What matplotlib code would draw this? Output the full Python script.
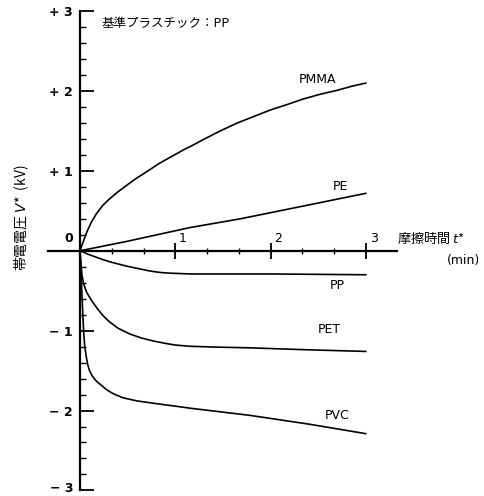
"""帯電電圧と摩擦時間のグラフ (基準プラスチック: PP)"""
import matplotlib
matplotlib.use('Agg')
from matplotlib import pyplot as plt
from matplotlib.ticker import FixedLocator

plt.rcParams['font.family'] = ['Noto Sans CJK JP', 'DejaVu Sans']

# data: time (min) -> voltage (kV)
pmma_t = [0, 0.03, 0.07, 0.12, 0.17, 0.24, 0.31, 0.4, 0.49, 0.57, 0.66, 0.75, 0.84, 0.96,
          1.08, 1.18, 1.29, 1.47, 1.65, 1.82, 1.99, 2.17, 2.34, 2.52, 2.7, 2.85, 3.0]
pmma_v = [0, 0.1, 0.23, 0.36, 0.46, 0.57, 0.65, 0.74, 0.82, 0.89, 0.96, 1.03, 1.1, 1.18,
          1.26, 1.32, 1.39, 1.5, 1.6, 1.68, 1.76, 1.83, 1.9, 1.96, 2.01, 2.06, 2.1]
pe_t = [0, 0.5, 1.15, 1.68, 2.3, 3.0]
pe_v = [0, 0.12, 0.29, 0.4, 0.55, 0.72]
pp_t = [0, 0.05, 0.1, 0.17, 0.24, 0.32, 0.4, 0.5, 0.6, 0.7, 0.77, 0.85, 0.94, 1.05, 1.15,
        2.0, 3.0]
pp_v = [0, -0.025, -0.05, -0.08, -0.11, -0.14, -0.165, -0.195, -0.22, -0.245, -0.26,
        -0.272, -0.28, -0.285, -0.29, -0.29, -0.3]
pet_t = [0, 0.01, 0.02, 0.04, 0.07, 0.12, 0.18, 0.24, 0.31, 0.4, 0.52, 0.64, 0.77, 0.9,
         1.0, 1.15, 1.4, 1.78, 2.4, 3.0]
pet_v = [0, -0.15, -0.3, -0.42, -0.52, -0.62, -0.72, -0.81, -0.89, -0.97, -1.04, -1.09,
         -1.13, -1.16, -1.18, -1.195, -1.205, -1.215, -1.24, -1.26]
pvc_t = [0, 0.015, 0.03, 0.04, 0.05, 0.065, 0.08, 0.1, 0.13, 0.17, 0.21, 0.28, 0.35, 0.45,
         0.6, 0.75, 0.87, 1.0, 1.15, 1.78, 2.4, 3.0]
pvc_v = [0, -0.4, -0.8, -1.05, -1.2, -1.32, -1.42, -1.5, -1.57, -1.63, -1.67, -1.74, -1.79,
         -1.84, -1.88, -1.905, -1.925, -1.945, -1.97, -2.06, -2.17, -2.29]

names = ['PMMA', 'PE', 'PP', 'PET', 'PVC']
label_t = [2.49, 2.73, 2.70, 2.62, 2.70]
label_v = [2.14, 0.81, -0.44, -0.99, -2.06]

y_major = [-3, -2, -1, 0, 1, 2, 3]
y_labels = ['', '− 2', '− 1', '', '+ 1', '+ 2', '+ 3']
x_major = [1, 2, 3]

fig = plt.figure(figsize=(4.84, 4.96), dpi=100)
ax = fig.add_axes([0, 0, 1, 1])
ax.set_xlim(-0.839, 4.238)
ax.set_ylim(-3.07, 3.14)

for tt, vv in [(pmma_t, pmma_v), (pe_t, pe_v), (pp_t, pp_v), (pet_t, pet_v), (pvc_t, pvc_v)]:
    ax.plot(tt, vv, color='black', lw=1.2, solid_capstyle='round', solid_joinstyle='round')

for i in range(len(names)):
    ax.text(label_t[i], label_v[i], names[i], ha='center', va='center', fontsize=9,
            family='DejaVu Sans')

# axes through the origin
for s in ['top', 'right']:
    ax.spines[s].set_visible(False)
ax.spines['left'].set_position(('data', 0))
ax.spines['bottom'].set_position(('data', 0))
ax.spines['left'].set_bounds(-3, 3)
ax.spines['bottom'].set_bounds(-0.34, 3.33)
ax.spines['left'].set_linewidth(1.6)
ax.spines['bottom'].set_linewidth(1.6)

ax.set_yticks(y_major)
ax.set_yticklabels(y_labels, fontsize=9, fontweight='bold', family='DejaVu Sans')
ax.yaxis.set_minor_locator(FixedLocator([k * 0.2 - 3 for k in range(31)]))
ax.tick_params(axis='y', which='major', direction='in', length=10, width=1.3, pad=5)
ax.tick_params(axis='y', which='minor', direction='in', length=4, width=1.0)

ax.set_xticks(x_major)
ax.set_xticklabels(['', '', ''])
ax.xaxis.set_minor_locator(FixedLocator([k / 3 for k in range(1, 9)]))
ax.tick_params(axis='x', which='major', direction='inout', length=12, width=1.3)
ax.tick_params(axis='x', which='minor', direction='inout', length=5, width=1.0)

for x in x_major:
    ax.text(x + 0.04, 0.07, str(x), ha='left', va='bottom', fontsize=9, family='DejaVu Sans')
ax.text(-0.07, 0.07, '0', ha='right', va='bottom', fontsize=9, fontweight='bold',
        family='DejaVu Sans')
# lowest tick label sits right at the bottom edge, nudge it up a little
ax.text(-0.07, -2.97, '− 3', ha='right', va='center', fontsize=9, fontweight='bold',
        family='DejaVu Sans')

ax.text(0.23, 2.85, '基準プラスチック：PP', ha='left', va='center', fontsize=9)
ax.text(3.33, 0.16, '摩擦時間 $t$*', ha='left', va='center', fontsize=9.5)
ax.text(4.2, -0.12, '(min)', ha='right', va='center', fontsize=9, family='DejaVu Sans')
ax.text(-0.62, 0.42, '帯電電圧 $V$*  (kV)', rotation=90, ha='center', va='center',
        fontsize=10)

fig.savefig('out.png', dpi=100)
